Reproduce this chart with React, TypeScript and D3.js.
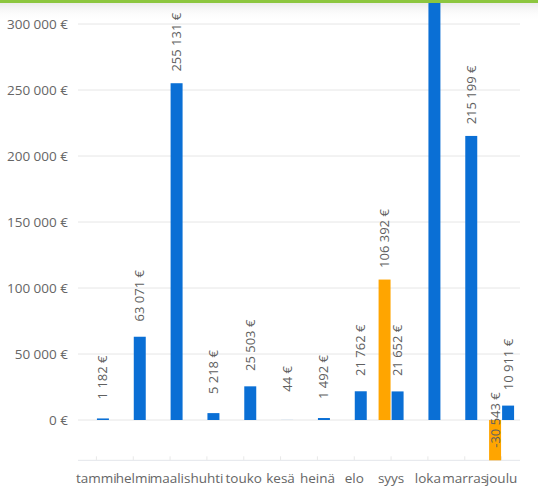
import React from "react";
import * as d3 from "d3";

const categories = ["tammi", "helmi", "maalis", "huhti", "touko", "kesä", "heinä", "elo", "syys", "loka", "marras", "joulu"];
const seriesNames = ["edellinen", "nykyinen"];
const orangeValues: (number | null)[] = [null, null, null, null, null, null, null, null, 106392, null, null, -30543];
const blueValues: (number | null)[] = [1182, 63071, 255131, 5218, 25503, 44, 1492, 21762, 21652, 382000, 215199, 10911];
const yTicks = [0, 50000, 100000, 150000, 200000, 250000, 300000];
const seriesColors = ["#ffa500", "#0a6fd5"];

const W = 538;
const H = 498;

function fmt(v: number): string {
  const s = Math.abs(Math.round(v)).toString().replace(/\B(?=(\d{3})+(?!\d))/g, " ");
  return (v < 0 ? "-" : "") + s + " €";
}

export default function App() {
  const plotLeft = 78;
  const plotRight = 520;
  const y = d3.scaleLinear().domain([0, 300000]).range([420, 24]);
  const yMin = -30543;
  const bottom = y(yMin);
  const x0 = d3.scaleBand<string>().domain(categories).range([plotLeft, plotRight]).paddingInner(0).paddingOuter(0);
  const bw = x0.bandwidth();
  const groupW = 25;
  const x1 = d3
    .scaleBand<string>()
    .domain(seriesNames)
    .range([(bw - groupW) / 2, (bw + groupW) / 2])
    .paddingInner(0.08)
    .paddingOuter(0);

  const series = [orangeValues, blueValues];
  const font = "'Open Sans', 'Noto Sans', sans-serif";

  return (
    <svg
      width={W}
      height={H}
      style={{ position: "absolute", left: 0, top: 0, background: "#fff" }}
      fontFamily={font}
    >
      <defs>
        <linearGradient id="topShade" x1="0" y1="0" x2="0" y2="1">
          <stop offset="0" stopColor="#ebebeb" />
          <stop offset="1" stopColor="#ffffff" stopOpacity="0" />
        </linearGradient>
        <clipPath id="plotClip">
          <rect x={0} y={3} width={W} height={H - 3} />
        </clipPath>
      </defs>
      <rect x={0} y={0} width={W} height={H} fill="#fff" />
      <rect x={0} y={3} width={W} height={18} fill="url(#topShade)" />

      {yTicks.map((t) => (
        <line key={t} x1={plotLeft} x2={plotRight} y1={y(t)} y2={y(t)} stroke="#e6e6e6" strokeWidth={1} />
      ))}
      <line x1={plotLeft} x2={plotRight} y1={bottom} y2={bottom} stroke="#e3e6ea" strokeWidth={1} />
      {categories.map((c) => (
        <line
          key={"tk" + c}
          x1={(x0(c) ?? 0) + bw / 2}
          x2={(x0(c) ?? 0) + bw / 2}
          y1={bottom}
          y2={bottom - 4}
          stroke="#e8e8e8"
          strokeWidth={1}
        />
      ))}

      {yTicks.map((t) => (
        <text key={"yl" + t} x={68} y={y(t) + 4.5} textAnchor="end" fontSize={13.5} fill="#666">
          {fmt(t)}
        </text>
      ))}

      {categories.map((c) => (
        <text key={"xl" + c} x={(x0(c) ?? 0) + bw / 2} y={483} textAnchor="middle" fontSize={13.5} fill="#666">
          {c}
        </text>
      ))}

      <g clipPath="url(#plotClip)">
        {series.map((vals, si) =>
          vals.map((v, i) => {
            if (v === null) return null;
            const cx = (x0(categories[i]) ?? 0) + (x1(seriesNames[si]) ?? 0);
            const y0 = y(0);
            const yv = y(v);
            const top = Math.min(y0, yv);
            const h = Math.max(Math.abs(yv - y0), 0);
            return (
              <rect key={`b${si}-${i}`} x={cx} y={top} width={x1.bandwidth()} height={h} fill={seriesColors[si]} />
            );
          })
        )}
        {series.map((vals, si) =>
          vals.map((v, i) => {
            if (v === null) return null;
            const cx = (x0(categories[i]) ?? 0) + (x1(seriesNames[si]) ?? 0) + x1.bandwidth() / 2;
            const cy = v >= 0 ? y(v) - 41 : y(0);
            if (cy < 40) return null; // label lies above the visible area
            return (
              <text
                key={`l${si}-${i}`}
                transform={`translate(${cx},${cy}) rotate(-90)`}
                textAnchor="middle"
                dy="0.35em"
                fontSize={13}
                fill="#606060"
              >
                {fmt(v)}
              </text>
            );
          })
        )}
      </g>

      <rect x={0} y={0} width={W} height={3} fill="#8cc63f" />
    </svg>
  );
}
